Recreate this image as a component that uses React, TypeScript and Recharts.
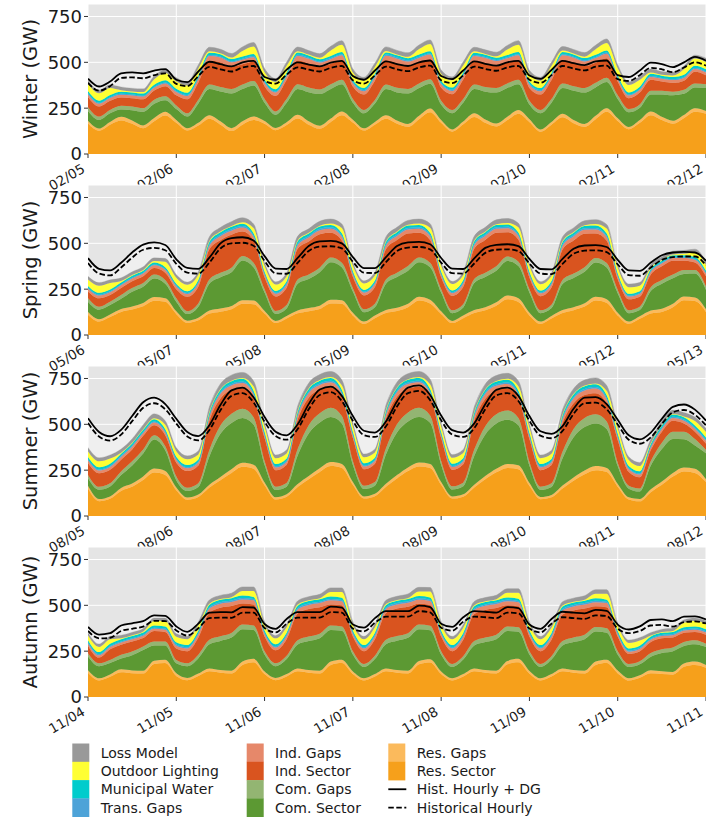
import React from 'react';
import { ComposedChart, Area, Line, XAxis, YAxis, CartesianGrid } from 'recharts';

const FONT = '"DejaVu Sans", Verdana, sans-serif';

const HOURS = [0,3,6,9,12,15,18,21,24,27,30,33,36,39,42,45,48,51,54,57,60,63,66,69,72,75,78,81,84,87,90,93,96,99,102,105,108,111,114,117,120,123,126,129,132,135,138,141,144,147,150,153,156,159,162,165,168];
const DAY_TICKS = [0,24,48,72,96,120,144,168];
const Y_TICKS = [0,250,500,750];

const winterTicks = ['02/05','02/06','02/07','02/08','02/09','02/10','02/11','02/12'];
const springTicks = ['05/06','05/07','05/08','05/09','05/10','05/11','05/12','05/13'];
const summerTicks = ['08/05','08/06','08/07','08/08','08/09','08/10','08/11','08/12'];
const autumnTicks = ['11/04','11/05','11/06','11/07','11/08','11/09','11/10','11/11'];

// ---------------- WINTER ----------------
const winterRes = [
166,127,160,183,165,140,178,210,
170,128,155,192,160,125,160,185,
165,130,158,194,160,138,175,212,
172,128,160,192,165,148,190,228,
170,122,162,202,170,150,185,220,
175,122,160,200,168,148,190,230,
180,135,170,212,185,165,195,230,
220];
const winterResGap = [
15,12,15,20,18,16,18,20,
15,12,15,20,18,16,18,20,
15,12,15,20,18,16,18,20,
15,12,15,20,18,16,18,20,
15,12,15,20,18,16,18,20,
15,12,15,20,18,16,18,20,
15,12,15,20,18,16,18,20,
15];
const winterCom = [
54,47,47,40,56,74,78,63,
60,64,106,142,163,189,176,169,
100,72,107,141,159,173,162,149,
93,82,100,142,153,166,152,135,
85,88,103,132,152,169,157,141,
80,88,105,140,159,171,155,142,
105,80,67,93,122,139,115,113,
125];
const winterComGap = [
20,18,18,20,20,20,22,22,
20,18,20,25,25,25,25,24,
20,18,20,25,25,25,25,24,
20,18,20,25,25,25,25,24,
20,18,20,25,25,25,25,24,
20,18,20,25,25,25,25,24,
20,18,18,20,20,20,22,22,
20];
const winterInd = [
56,55,50,45,45,48,50,55,
55,76,94,130,135,120,110,105,
70,85,105,130,132,122,112,108,
68,84,104,132,134,124,114,110,
72,86,106,130,133,122,112,108,
70,84,104,128,130,120,110,106,
76,59,65,60,50,48,50,64,
50];
const winterIndGap = [
15,15,15,15,15,15,15,15,
18,18,20,25,25,25,25,25,
18,18,20,25,25,25,25,25,
18,18,20,25,25,25,25,25,
18,18,20,25,25,25,25,25,
18,18,20,25,25,25,25,25,
15,15,15,15,15,15,15,15,
15];
const winterTrans = [
5,5,5,5,5,5,5,5,
6,6,6,6,6,6,6,6,
6,6,6,6,6,6,6,6,
6,6,6,6,6,6,6,6,
6,6,6,6,6,6,6,6,
6,6,6,6,6,6,6,6,
5,5,5,5,5,5,5,5,
5];
const winterWater = [
12,12,12,12,12,12,12,12,
12,12,12,12,12,12,12,12,
12,12,12,12,12,12,12,12,
12,12,12,12,12,12,12,12,
12,12,12,12,12,12,12,12,
12,12,12,12,12,12,12,12,
12,12,12,12,12,12,12,12,
12];
const winterLight = [
40,40,38,8,5,8,30,40,
40,40,38,8,5,8,30,40,
40,40,38,8,5,8,30,40,
40,40,38,8,5,8,30,40,
40,40,38,8,5,8,30,40,
40,40,38,8,5,8,30,40,
40,40,38,8,5,8,30,40,
40];
const winterLoss = [
18,18,18,18,18,18,18,18,
20,18,20,22,22,22,22,22,
20,18,20,22,22,22,22,22,
20,18,20,22,22,22,22,22,
20,18,20,22,22,22,22,22,
20,18,20,22,22,22,22,22,
18,18,18,18,18,18,18,18,
20];
const winterHistDG = [
411,368,395,440,445,440,455,463,
405,392,450,503,490,478,500,508,
420,405,460,500,488,478,498,508,
425,405,455,505,490,480,500,510,
425,408,455,505,492,482,500,508,
428,410,458,508,495,485,505,510,
430,420,455,498,490,474,500,530,
509];
const winterHist = [
388,345,370,415,418,413,430,440,
382,370,425,475,462,450,472,480,
398,384,433,472,460,450,470,480,
402,384,428,477,462,452,472,482,
402,387,428,477,464,454,472,480,
405,388,430,480,466,456,476,482,
408,398,430,470,462,446,472,500,
482];

// ---------------- SPRING ----------------
const springRes = [
111,74,98,126,139,157,187,181,
115,66,80,117,127,140,170,168,
117,65,90,118,130,142,172,170,
107,61,92,120,131,152,188,172,
115,65,92,120,135,160,195,180,
107,61,90,120,135,155,188,175,
107,61,88,117,126,152,190,185,
126];
const springResGap = [
14,12,14,16,17,18,20,20,
14,12,14,16,17,18,20,20,
14,12,14,16,17,18,20,20,
14,12,14,16,17,18,20,20,
14,12,14,16,17,18,20,20,
14,12,14,16,17,18,20,20,
14,12,14,16,17,18,20,20,
14];
const springCom = [
57,52,51,56,80,88,101,79,
53,36,60,147,171,184,216,182,
101,38,41,146,159,182,205,180,
116,51,46,144,168,181,189,178,
103,42,44,147,164,172,188,176,
111,46,43,142,159,172,187,173,
107,46,34,107,137,140,123,130,
107];
const springComGap = [
18,16,18,20,20,20,22,20,
18,16,18,22,24,25,25,24,
18,16,18,22,24,25,25,24,
18,16,18,22,24,25,25,24,
18,16,18,22,24,25,25,24,
18,16,18,22,24,25,25,24,
18,16,18,20,20,20,22,20,
18];
const springInd = [
37,46,37,38,37,37,35,40,
50,79,93,165,178,180,133,122,
65,79,95,168,180,182,135,122,
62,76,92,165,178,178,135,124,
65,78,95,165,178,182,132,120,
64,77,94,166,180,182,134,122,
60,60,55,70,75,75,50,40,
55];
const springIndGap = [
15,15,15,15,15,15,15,15,
15,15,18,20,22,22,22,20,
15,15,18,20,22,22,22,20,
15,15,18,20,22,22,22,20,
15,15,18,20,22,22,22,20,
15,15,18,20,22,22,22,20,
15,15,15,15,15,15,15,15,
15];
const springTrans = [
5,5,5,5,5,5,5,5,
5,5,6,8,8,8,8,7,
5,5,6,8,8,8,8,7,
5,5,6,8,8,8,8,7,
5,5,6,8,8,8,8,7,
5,5,6,8,8,8,8,7,
5,5,5,5,5,5,5,5,
5];
const springWater = [
10,10,10,10,10,10,10,10,
10,10,11,13,13,13,13,12,
10,10,11,13,13,13,13,12,
10,10,11,13,13,13,13,12,
10,10,11,13,13,13,13,12,
10,10,11,13,13,13,13,12,
10,10,10,10,10,10,10,10,
10];
const springLight = [
35,38,35,8,4,4,8,30,
32,35,28,5,4,4,8,28,
32,35,28,5,4,4,8,28,
32,35,28,5,4,4,8,28,
32,35,28,5,4,4,8,28,
32,35,28,5,4,4,8,28,
32,35,30,8,4,4,8,25,
32];
const springLoss = [
18,18,18,18,18,18,18,18,
18,15,18,22,22,24,24,22,
18,15,18,22,22,24,24,22,
18,15,18,22,22,24,24,22,
18,15,18,22,22,24,24,22,
18,15,18,22,22,24,24,22,
18,18,18,18,18,18,18,18,
18];
const springHistDG = [
419,361,352,394,450,493,505,491,
413,366,361,422,500,528,533,515,
430,362,360,420,485,510,513,500,
425,365,365,425,485,505,508,495,
420,362,360,418,475,492,495,485,
415,360,358,415,470,488,490,480,
410,352,350,395,435,450,453,450,
404];
const springHist = [
393,335,325,368,422,465,475,462,
388,340,335,395,472,500,503,487,
404,336,334,394,458,482,484,472,
400,340,338,398,458,477,480,467,
395,337,335,390,448,465,467,458,
390,335,332,388,443,460,462,452,
385,327,323,368,410,425,428,428,
380];

// ---------------- SUMMER ----------------
const summerRes = [
150,81,94,137,159,196,237,224,
141,89,104,155,195,235,268,258,
168,90,105,158,200,240,272,262,
170,95,108,160,205,245,270,262,
170,95,105,155,200,238,262,255,
165,92,102,150,192,228,250,240,
160,90,80,130,170,215,243,235,
185];
const summerResGap = [
15,12,13,16,18,20,22,22,
15,12,13,16,18,20,22,22,
15,12,13,16,18,20,22,22,
15,12,13,16,18,20,22,22,
15,12,13,16,18,20,22,22,
15,12,13,16,18,20,22,22,
15,12,13,16,18,20,22,22,
15];
const summerCom = [
41,50,54,70,99,125,158,112,
39,35,41,154,235,252,245,219,
97,40,42,156,232,250,246,221,
95,40,44,159,232,250,248,224,
95,37,44,156,227,247,241,218,
95,38,43,149,220,237,233,213,
97,47,40,129,177,185,153,128,
142];
const summerComGap = [
18,16,17,20,22,22,24,22,
20,18,20,35,45,50,50,40,
20,18,20,35,45,50,50,40,
20,18,20,35,45,50,50,40,
20,18,20,35,45,50,50,40,
20,18,20,35,45,50,50,40,
18,16,17,25,35,40,42,35,
18];
const summerInd = [
65,74,74,64,65,74,54,60,
75,91,97,160,148,130,115,101,
125,90,100,160,150,130,115,100,
125,90,100,160,150,130,115,102,
125,90,100,158,150,130,120,105,
125,90,100,155,140,125,115,100,
125,75,61,60,60,60,45,40,
35];
const summerIndGap = [
15,15,15,15,15,15,15,15,
15,15,15,22,25,25,25,22,
15,15,15,22,25,25,25,22,
15,15,15,22,25,25,25,22,
15,15,15,22,25,25,25,22,
15,15,15,22,25,25,25,22,
15,15,15,15,15,15,15,15,
15];
const summerTrans = [
6,6,6,6,6,6,6,6,
6,6,6,8,8,8,8,7,
6,6,6,8,8,8,8,7,
6,6,6,8,8,8,8,7,
6,6,6,8,8,8,8,7,
6,6,6,8,8,8,8,7,
6,6,6,6,6,6,6,6,
6];
const summerWater = [
12,12,12,12,12,12,12,12,
12,12,12,14,15,15,15,14,
12,12,12,14,15,15,15,14,
12,12,12,14,15,15,15,14,
12,12,12,14,15,15,15,14,
12,12,12,14,15,15,15,14,
12,12,12,12,12,12,12,12,
12];
const summerLight = [
30,32,28,5,3,3,5,25,
30,32,28,5,3,3,5,25,
30,32,28,5,3,3,5,25,
30,32,28,5,3,3,5,25,
30,32,28,5,3,3,5,25,
30,32,28,5,3,3,5,25,
30,32,28,5,3,3,5,25,
30];
const summerLoss = [
22,20,20,20,22,25,25,22,
20,18,20,25,28,30,30,28,
20,18,20,25,28,30,30,28,
20,18,20,25,28,30,30,28,
20,18,20,25,28,30,30,28,
20,18,20,25,28,30,30,28,
20,18,20,22,22,22,22,22,
20];
const summerHistDG = [
533,458,435,470,545,620,645,610,
530,458,436,495,605,685,700,648,
540,460,440,500,610,690,705,655,
545,465,455,515,625,700,712,660,
548,468,455,505,610,688,700,655,
545,462,448,490,585,645,648,610,
525,440,418,455,530,595,608,580,
520];
const summerHist = [
507,434,411,444,517,590,615,582,
504,434,412,469,577,655,670,620,
514,436,416,474,582,660,675,627,
519,441,431,489,597,670,682,632,
522,444,431,479,582,658,670,627,
519,438,424,464,557,615,618,582,
499,416,394,429,502,565,578,552,
494];

// ---------------- AUTUMN ----------------
const autumnRes = [
132,90,110,135,130,128,180,185,
115,92,115,140,132,128,175,190,
125,92,112,140,132,128,175,185,
125,90,112,140,132,128,178,188,
125,90,112,140,132,128,178,190,
128,90,112,140,132,128,175,185,
130,90,105,130,125,122,165,175,
160];
const autumnResGap = [
14,12,13,16,15,15,18,18,
14,12,13,16,15,15,18,18,
14,12,13,16,15,15,18,18,
14,12,13,16,15,15,18,18,
14,12,13,16,15,15,18,18,
14,12,13,16,15,15,18,18,
14,12,13,16,15,15,18,18,
14];
const autumnCom = [
75,66,62,59,83,113,83,78,
55,64,84,132,159,181,177,158,
93,64,82,130,158,177,172,158,
93,62,82,132,160,180,174,158,
93,62,79,125,153,172,164,148,
90,62,79,125,153,172,164,148,
88,62,60,74,100,113,95,95,
98];
const autumnComGap = [
18,16,17,20,20,20,22,22,
18,16,18,24,25,25,25,24,
18,16,18,24,25,25,25,24,
18,16,18,24,25,25,25,24,
18,16,18,24,25,25,25,24,
18,16,18,24,25,25,25,24,
18,16,17,20,20,20,22,22,
18];
const autumnInd = [
41,31,58,55,55,46,57,52,
63,66,95,148,156,147,115,115,
80,71,90,145,150,145,115,115,
80,70,90,146,150,144,113,114,
80,70,90,147,150,145,115,115,
80,70,90,145,147,142,113,115,
80,55,55,60,60,55,50,45,
50];
const autumnIndGap = [
12,12,12,12,12,12,12,12,
15,15,18,22,22,22,22,22,
15,15,18,22,22,22,22,22,
15,15,18,22,22,22,22,22,
15,15,18,22,22,22,22,22,
15,15,18,22,22,22,22,22,
12,12,12,12,12,12,12,12,
12];
const autumnTrans = [
6,6,6,6,6,6,6,6,
6,6,6,8,8,8,8,7,
6,6,6,8,8,8,8,7,
6,6,6,8,8,8,8,7,
6,6,6,8,8,8,8,7,
6,6,6,8,8,8,8,7,
6,6,6,6,6,6,6,6,
6];
const autumnWater = [
12,12,12,12,12,12,12,12,
12,12,12,13,13,13,13,12,
12,12,12,13,13,13,13,12,
12,12,12,13,13,13,13,12,
12,12,12,13,13,13,13,12,
12,12,12,13,13,13,13,12,
12,12,12,12,12,12,12,12,
12];
const autumnLight = [
25,28,25,6,4,5,25,30,
30,32,30,6,4,5,25,32,
30,32,30,6,4,5,25,32,
30,32,30,6,4,5,25,32,
30,32,30,6,4,5,25,32,
30,32,30,6,4,5,25,32,
28,30,28,6,4,5,25,30,
30];
const autumnLoss = [
16,16,16,16,16,16,16,16,
18,16,18,20,20,22,22,22,
18,16,18,20,20,22,22,22,
18,16,18,20,20,22,22,22,
18,16,18,20,20,22,22,22,
18,16,18,20,20,22,22,22,
16,16,16,16,16,16,16,16,
16];
const autumnHistDG = [
382,340,348,390,402,414,445,442,
385,355,400,460,463,462,490,488,
398,372,425,463,463,463,493,488,
395,378,430,468,468,468,498,490,
400,382,435,468,465,460,490,485,
395,372,425,465,460,456,475,470,
395,368,385,420,423,414,438,440,
423];
const autumnHist = [
360,320,323,360,372,384,415,414,
363,335,375,430,433,432,460,460,
376,352,400,433,433,433,463,460,
373,358,405,438,438,438,468,462,
378,362,410,438,435,430,460,457,
373,352,400,435,430,426,445,442,
373,348,360,390,393,384,408,412,
401];

// ---------------- styling ----------------
const LAYERS = [
  { key: 'res', name: 'Res. Sector', color: '#f6a01b' },
  { key: 'resGap', name: 'Res. Gaps', color: '#fbba5c' },
  { key: 'com', name: 'Com. Sector', color: '#5c9933' },
  { key: 'comGap', name: 'Com. Gaps', color: '#93b572' },
  { key: 'ind', name: 'Ind. Sector', color: '#d9541f' },
  { key: 'indGap', name: 'Ind. Gaps', color: '#e6886a' },
  { key: 'trans', name: 'Trans. Gaps', color: '#4da3d8' },
  { key: 'water', name: 'Municipal Water', color: '#00cccc' },
  { key: 'light', name: 'Outdoor Lighting', color: '#ffff33' },
  { key: 'loss', name: 'Loss Model', color: '#999999' },
];
const COLOR: Record<string, string> = {};
LAYERS.forEach((l) => { COLOR[l.name] = l.color; });

type Season = { title: string; labels: string[]; series: Record<string, number[]> };

const SEASONS: Season[] = [
  { title: 'Winter (GW)', labels: winterTicks, series: { res: winterRes, resGap: winterResGap, com: winterCom, comGap: winterComGap, ind: winterInd, indGap: winterIndGap, trans: winterTrans, water: winterWater, light: winterLight, loss: winterLoss, histDG: winterHistDG, hist: winterHist } },
  { title: 'Spring (GW)', labels: springTicks, series: { res: springRes, resGap: springResGap, com: springCom, comGap: springComGap, ind: springInd, indGap: springIndGap, trans: springTrans, water: springWater, light: springLight, loss: springLoss, histDG: springHistDG, hist: springHist } },
  { title: 'Summer (GW)', labels: summerTicks, series: { res: summerRes, resGap: summerResGap, com: summerCom, comGap: summerComGap, ind: summerInd, indGap: summerIndGap, trans: summerTrans, water: summerWater, light: summerLight, loss: summerLoss, histDG: summerHistDG, hist: summerHist } },
  { title: 'Autumn (GW)', labels: autumnTicks, series: { res: autumnRes, resGap: autumnResGap, com: autumnCom, comGap: autumnComGap, ind: autumnInd, indGap: autumnIndGap, trans: autumnTrans, water: autumnWater, light: autumnLight, loss: autumnLoss, histDG: autumnHistDG, hist: autumnHist } },
];

// rows for the chart; "gap" is the light band between the stack top and the hist+DG line
function buildRows(s: Season) {
  return HOURS.map((t, i) => {
    const r: Record<string, number> = { t };
    Object.keys(s.series).forEach((k) => { r[k] = s.series[k][i]; });
    let top = 0;
    LAYERS.forEach((l) => { top += s.series[l.key][i]; });
    r.gap = Math.max(0, s.series.histDG[i] - top);
    return r;
  });
}

const PANEL_H = 181;

function Panel({ season, index }: { season: Season; index: number }) {
  const data = buildRows(season);
  const renderTick = (p: any) => {
    const { x, y, payload } = p;
    const label = season.labels[DAY_TICKS.indexOf(payload.value)];
    const tx = x - 2;
    const ty = y + 13.5;
    return (
      <text x={tx} y={ty} transform={`rotate(-30 ${tx} ${ty})`} textAnchor="end" fontSize={13.5} fill="#1a1a1a" fontFamily={FONT}>
        {label}
      </text>
    );
  };
  return (
    <div style={{ position: 'absolute', left: 0, top: index * PANEL_H, width: 706, height: PANEL_H }}>
      <ComposedChart width={706} height={PANEL_H} data={data} margin={{ top: 4, right: 0, bottom: 0, left: 0 }}>
        <CartesianGrid fill="#e5e5e5" fillOpacity={1} stroke="#ffffff" strokeWidth={1} />
        <XAxis dataKey="t" type="number" domain={[0, 168]} ticks={DAY_TICKS} interval={0} height={27}
          tickSize={4} tickMargin={0} axisLine={false} tickLine={{ stroke: '#333' }} tick={renderTick} allowDataOverflow />
        <YAxis type="number" domain={[0, 818]} ticks={Y_TICKS} interval={0} width={88} tickSize={4} tickMargin={2}
          axisLine={false} tickLine={{ stroke: '#333' }} tick={{ fontSize: 18, fill: '#1a1a1a', fontFamily: FONT }} allowDataOverflow />
        {LAYERS.map((l) => (
          <Area key={l.key} type="monotone" dataKey={l.key} stackId="s" stroke={l.color} strokeWidth={0.5}
            fill={l.color} fillOpacity={1} isAnimationActive={false} dot={false} activeDot={false} />
        ))}
        <Area type="monotone" dataKey="gap" stackId="s" stroke="none" fill="#ffffff" fillOpacity={0.4}
          isAnimationActive={false} dot={false} activeDot={false} />
        <Line type="monotone" dataKey="hist" stroke="#000" strokeWidth={1.8} strokeDasharray="5.5 2.5" dot={false} activeDot={false} isAnimationActive={false} />
        <Line type="monotone" dataKey="histDG" stroke="#000" strokeWidth={1.8} dot={false} activeDot={false} isAnimationActive={false} />
      </ComposedChart>
    </div>
  );
}

const LEGEND_COLS = [
  { sx: 72.3, tx: 100.7, items: ['Loss Model', 'Outdoor Lighting', 'Municipal Water', 'Trans. Gaps'] },
  { sx: 246.7, tx: 275, items: ['Ind. Gaps', 'Ind. Sector', 'Com. Gaps', 'Com. Sector'] },
  { sx: 388.3, tx: 416.7, items: ['Res. Gaps', 'Res. Sector', 'Hist. Hourly + DG', 'Historical Hourly'] },
];

export default function App() {
  return (
    <div style={{ position: 'absolute', left: 0, top: 0, width: 706, height: 818, background: '#fff', fontFamily: FONT }}>
      <style>{'.recharts-surface{overflow:visible}'}</style>
      {SEASONS.map((s, i) => <Panel key={s.title} season={s} index={i} />)}
      <svg width={706} height={818} style={{ position: 'absolute', left: 0, top: 0, pointerEvents: 'none' }}>
        {SEASONS.map((s, i) => {
          const cy = i * PANEL_H + 79;
          return (
            <text key={s.title} x={30} y={cy} transform={`rotate(-90 30 ${cy})`} textAnchor="middle" dominantBaseline="central"
              fontSize={19.5} fill="#1a1a1a" fontFamily={FONT}>{s.title}</text>
          );
        })}
        {LEGEND_COLS.map((col, ci) => col.items.map((name, ri) => {
          const top = 743.5 + ri * 18.3;
          const cy = top + 9.15;
          let mark: React.ReactNode;
          if (name === 'Hist. Hourly + DG') {
            mark = <line x1={col.sx} x2={col.sx + 18} y1={cy} y2={cy} stroke="#000" strokeWidth={1.8} />;
          } else if (name === 'Historical Hourly') {
            mark = <line x1={col.sx} x2={col.sx + 18} y1={cy} y2={cy} stroke="#000" strokeWidth={1.8} strokeDasharray="5.5 2.5" />;
          } else {
            mark = <rect x={col.sx} y={top} width={17} height={18.6} fill={COLOR[name]} />;
          }
          return (
            <g key={`${ci}-${ri}`}>
              {mark}
              <text x={col.tx} y={cy + 5} fontSize={14} fill="#1a1a1a" fontFamily={FONT}>{name}</text>
            </g>
          );
        }))}
      </svg>
    </div>
  );
}
